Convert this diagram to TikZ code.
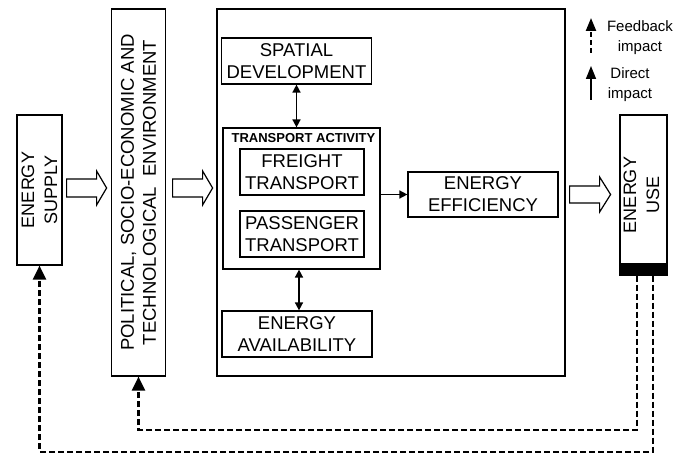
\documentclass[tikz,border=0pt]{standalone}
\usepackage{fontspec}
\setmainfont{Liberation Sans}
\usetikzlibrary{arrows.meta,calc}
\begin{document}
\begin{tikzpicture}[x=1pt,y=-1pt,
  box/.style={draw,line width=1.2pt,inner sep=0pt,align=center,font=\fontsize{18.5}{22}\selectfont},
  vbox/.style={box,font=\fontsize{18.5}{22.5}\selectfont},
  dirarr/.style={line width=1.6pt,{Triangle[length=8pt,width=8pt]}-{Triangle[length=8pt,width=8pt]}},
  onearr/.style={line width=1.6pt,-{Triangle[length=8pt,width=8pt]}},
  fb/.style={line width=2.2pt,dash pattern=on 6pt off 3pt,-{Triangle[length=14pt,width=13pt]}},
  blk/.style={draw,line width=1.2pt,fill=white,line join=miter},
  leg/.style={align=center,font=\fontsize{15}{20}\selectfont,inner sep=0pt}]
\useasboundingbox (0,0) rectangle (688,454);
% left boxes
\node[vbox,minimum width=45pt,minimum height=150pt] (supply) at (39.5,190) {};
\node[rotate=90,align=center,font=\fontsize{18}{23}\selectfont] (supplyt) at (supply.center) {ENERGY\\SUPPLY};
\node[vbox,minimum width=54pt,minimum height=367pt] (polit) at (138.5,192.5) {};
\node[rotate=90,align=center,font=\fontsize{18.5}{22}\selectfont] (politt) at (polit.center) {POLITICAL, SOCIO-ECONOMIC AND\\TECHNOLOGICAL\ \ ENVIRONMENT};
% main box
\node[box,minimum width=348pt,minimum height=367pt] (main) at (391,192.5) {};
\node[box,minimum width=150pt,minimum height=46pt] (spatial) at (296.5,61) {SPATIAL\\DEVELOPMENT};
\node[box,minimum width=157pt,minimum height=141pt] (tact) at (301.5,198.5) {};
\node[inner sep=0pt,font=\fontsize{13}{15}\bfseries\selectfont] (tactl) at (303.5,138) {TRANSPORT ACTIVITY};
\node[box,minimum width=124pt,minimum height=46pt] (freight) at (302,172) {FREIGHT\\TRANSPORT};
\node[box,minimum width=124pt,minimum height=46pt] (pass) at (302,234) {PASSENGER\\TRANSPORT};
\node[box,minimum width=150pt,minimum height=45pt] (eff) at (483,194.5) {ENERGY\\EFFICIENCY};
\node[box,minimum width=150pt,minimum height=46pt] (avail) at (297,334) {ENERGY\\AVAILABILITY};
% energy use
\node[vbox,minimum width=47pt,minimum height=160pt] (use) at (643.5,195) {};
\node[rotate=90,align=center,font=\fontsize{18}{23}\selectfont] (uset) at (641.5,195) {ENERGY\\USE};
\node[draw,fill=black,line width=1.2pt,minimum width=47pt,minimum height=11pt,inner sep=0pt] (usebar) at (643.5,269.5) {};
% internal arrows
\draw[dirarr] (spatial.south) -- (spatial.south |- tact.north);
\draw[dirarr] (avail.north -| 299,0) -- (tact.south -| 299,0);
\draw[onearr] (tact.east |- eff.west) -- (eff.west);
% block arrows
\draw[blk] ($(supply.east)+(4,-2)$) ++(0,-9) -- ++(30,0) -- ++(0,-8) -- ++(10,17) -- ++(-10,17) -- ++(0,-8) -- ++(-30,0) -- cycle;
\draw[blk] ($(polit.east)+(6.5,-4.5)$) ++(0,-9) -- ++(30,0) -- ++(0,-8) -- ++(10,17) -- ++(-10,17) -- ++(0,-8) -- ++(-30,0) -- cycle;
\draw[blk] ($(main.east)+(4,2)$) ++(0,-8.5) -- ++(30,0) -- ++(0,-9) -- ++(11,17.5) -- ++(-11,17.5) -- ++(0,-9) -- ++(-30,0) -- cycle;
% feedback
\draw[fb] ($(usebar.south)+(-6.5,0)$) -- ++(0,154) -| (polit.south);
\draw[fb] ($(usebar.south)+(9.5,0)$) -- ++(0,176) -| (supply.south);
% legend
\coordinate (l1a) at (591,53);
\coordinate (l1b) at (591,18);
\coordinate (l2a) at (591,100);
\coordinate (l2b) at (591,66);
\draw[line width=2.2pt,dash pattern=on 5pt off 3pt,-{Triangle[length=13pt,width=10pt]}] (l1a) -- (l1b);
\draw[line width=1.6pt,-{Triangle[length=13pt,width=10pt]}] (l2a) -- (l2b);
\node[leg] (legfb) at (640,38) {Feedback\\impact};
\node[leg] (legd) at (630,85) {Direct\\impact};
\end{tikzpicture}
\end{document}
